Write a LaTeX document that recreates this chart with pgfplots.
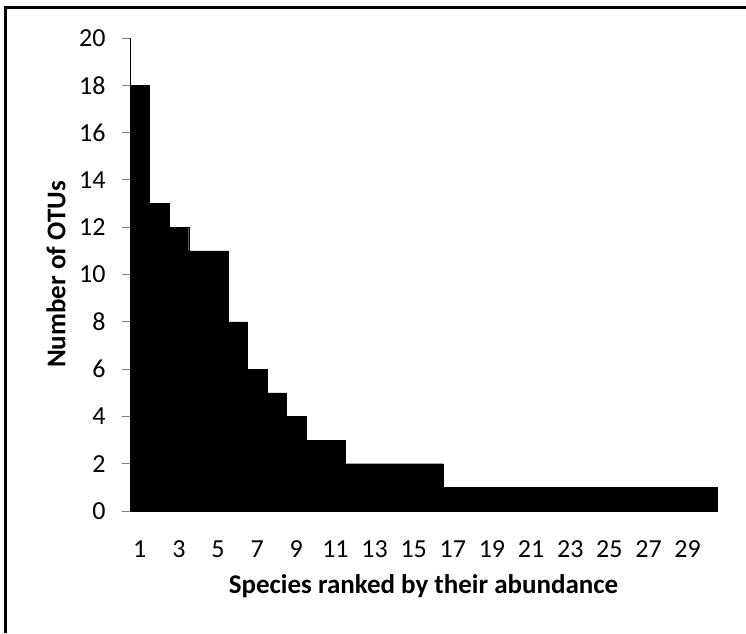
\documentclass[border=0pt]{standalone}
\usepackage{fontspec}
\setmainfont{Carlito}
\usepackage{pgfplots}
\pgfplotsset{compat=1.18}
\begin{document}
\begin{tikzpicture}[x=1pt,y=1pt]
\useasboundingbox (0,0) rectangle (746,633);
\draw[line width=3pt] (5.5,0) -- (5.5,625.5) -- (746,625.5);
\begin{axis}[
  at={(130pt,122pt)}, anchor=south west,
  scale only axis, width=587pt, height=473pt,
  xmin=0.5, xmax=30.5, ymin=0, ymax=20,
  axis x line=bottom, axis y line=left,
  axis line style={-, line width=1pt},
  ytick={0,2,...,20},
  xtick={1,3,...,29},
  tick align=outside,
  major tick length=8pt,
  x tick style={draw=none},
  y tick style={line width=1pt},
  tick label style={font=\fontsize{26}{30}\selectfont},
  /pgf/number format/assume math mode=true,
  xticklabel style={anchor=center, yshift=-30pt},
  yticklabel style={anchor=east, xshift=-13pt},
  xlabel={\textbf{Species ranked by their abundance}},
  ylabel={\textbf{Number of OTUs}},
  label style={font=\fontsize{27}{30}\selectfont},
  xlabel style={at={(axis description cs:0.5,0)}, anchor=center, yshift=-75pt},
  ylabel style={at={(axis description cs:0,0.5)}, anchor=center, yshift=74pt},
  clip=false,
]
\addplot[ybar, bar width=1, bar shift=0, fill=black, draw=black, line width=0.3pt] coordinates {
(1,18) (2,13) (3,12) (4,11) (5,11) (6,8) (7,6) (8,5) (9,4) (10,3)
(11,3) (12,2) (13,2) (14,2) (15,2) (16,2) (17,1) (18,1) (19,1) (20,1)
(21,1) (22,1) (23,1) (24,1) (25,1) (26,1) (27,1) (28,1) (29,1) (30,1)
};
\end{axis}
\end{tikzpicture}
\end{document}
